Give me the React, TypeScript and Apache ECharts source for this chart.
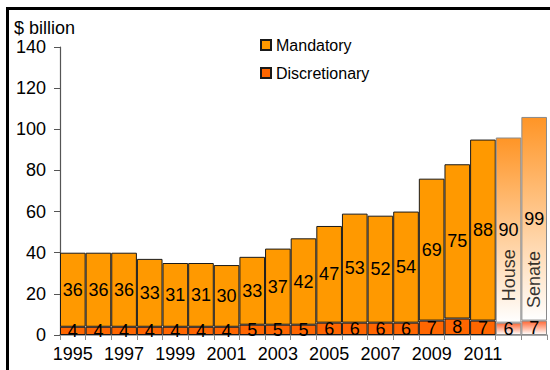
import React, { useEffect, useRef } from "react";
import * as echarts from "echarts";

// Fiscal years shown on the axis, followed by the two 2012 proposals
const years = [
  "1995", "1996", "1997", "1998", "1999", "2000", "2001", "2002", "2003",
  "2004", "2005", "2006", "2007", "2008", "2009", "2010", "2011",
];
const proposals = ["House", "Senate"];
const categories = [...years, ...proposals];

// $ billion
const mandatory = [36, 36, 36, 33, 31, 31, 30, 33, 37, 42, 47, 53, 52, 54, 69, 75, 88, 90, 99];
const discretionary = [4, 4, 4, 4, 4, 4, 4, 5, 5, 5, 6, 6, 6, 6, 7, 8, 7, 6, 7];

const yTicks = { min: 0, max: 140, interval: 20 };

const FONT = "'Liberation Sans', Arial, sans-serif";

// height (in axis units) at which the rotated proposal names sit
const proposalLabelY: Record<string, number> = { House: 29, Senate: 27 };

function fade(from: string) {
  return new echarts.graphic.LinearGradient(0, 0, 0, 1, [
    { offset: 0, color: from },
    { offset: 1, color: "#FFFFFF" },
  ]);
}

export default function App() {
  const ref = useRef<HTMLDivElement>(null);

  useEffect(() => {
    if (!ref.current) return;
    const chart = echarts.init(ref.current, null, { renderer: "svg" });

    const isProposal = (name: string) => proposals.includes(name);

    const barData = (values: number[], faded: string) =>
      values.map((v, i) => {
        const name = categories[i];
        if (!isProposal(name)) return v;
        return {
          value: v,
          itemStyle: { color: fade(faded), borderColor: "#8a8a8a", borderWidth: 1 },
        };
      });

    const valueLabel = {
      show: true,
      position: "inside" as const,
      color: "#000",
      fontSize: 18,
      fontFamily: FONT,
    };

    chart.setOption({
      animation: false,
      textStyle: { fontFamily: FONT },
      title: {
        text: "$ billion",
        left: 14,
        top: 19,
        padding: 0,
        textStyle: { fontSize: 18, fontWeight: "normal", color: "#000", fontFamily: FONT },
      },
      legend: {
        data: ["Mandatory", "Discretionary"],
        orient: "vertical",
        left: 260,
        top: 37,
        padding: 0,
        itemWidth: 10,
        itemHeight: 10,
        itemGap: 12,
        icon: "rect",
        textStyle: { fontSize: 16, color: "#000", fontFamily: FONT },
      },
      grid: { left: 60, right: 3, top: 47, bottom: 35, containLabel: false },
      xAxis: {
        type: "category",
        data: categories,
        boundaryGap: true,
        axisLine: { lineStyle: { color: "#8c8c8c", width: 1.5 } },
        axisTick: { show: true, interval: 0, length: 5, lineStyle: { color: "#8c8c8c" } },
        axisLabel: {
          interval: (index: number) => index % 2 === 0 && index < years.length,
          fontSize: 18,
          color: "#000",
          margin: 10,
          fontFamily: FONT,
        },
        splitLine: { show: false },
      },
      yAxis: {
        type: "value",
        min: yTicks.min,
        max: yTicks.max,
        interval: yTicks.interval,
        axisLine: { show: true, lineStyle: { color: "#555", width: 1.2 } },
        axisTick: { show: true, length: 6, lineStyle: { color: "#555" } },
        axisLabel: { fontSize: 18, color: "#000", margin: 14, fontFamily: FONT },
        splitLine: { show: false },
      },
      series: [
        {
          name: "Discretionary",
          type: "bar",
          stack: "total",
          barCategoryGap: "0%",
          itemStyle: { color: "#FF6600", borderColor: "#1a1a1a", borderWidth: 1 },
          label: valueLabel,
          data: barData(discretionary, "#FF6633"),
        },
        {
          name: "Mandatory",
          type: "bar",
          stack: "total",
          barCategoryGap: "0%",
          itemStyle: { color: "#FF9900", borderColor: "#1a1a1a", borderWidth: 1 },
          label: valueLabel,
          data: barData(mandatory, "#FF9526"),
        },
        {
          name: "Proposal",
          type: "scatter",
          symbol: "rect",
          symbolSize: 1,
          itemStyle: { color: "rgba(0,0,0,0)" },
          silent: true,
          z: 5,
          label: {
            show: true,
            position: "inside",
            rotate: 90,
            color: "#000",
            fontSize: 18,
            fontFamily: FONT,
            formatter: (p: any) => p.name,
          },
          data: proposals.map((name) => ({
            name,
            value: [categories.indexOf(name), proposalLabelY[name]],
          })),
        },
      ],
    });

    return () => chart.dispose();
  }, []);

  return (
    <div style={{ position: "fixed", left: 0, top: 0, width: 550, height: 370, overflow: "hidden", background: "#fff" }}>
      <div
        style={{
          position: "absolute",
          left: 6,
          top: 7,
          width: 600,
          height: 400,
          borderLeft: "3px solid #000",
          borderTop: "3px solid #000",
        }}
      />
      <div ref={ref} style={{ position: "absolute", left: 0, top: 0, width: 550, height: 370 }} />
    </div>
  );
}
